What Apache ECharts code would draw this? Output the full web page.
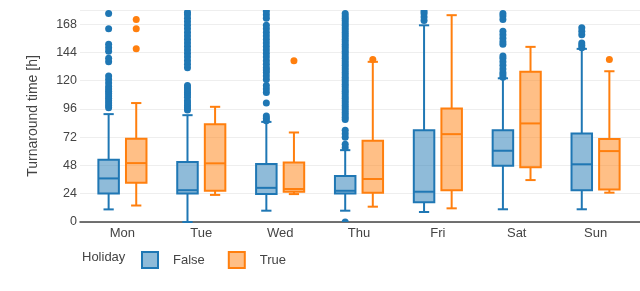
<!DOCTYPE html>
<html><head><meta charset="utf-8">
<script src="https://cdn.jsdelivr.net/npm/echarts@6/dist/echarts.min.js"></script>
<style>html,body{margin:0;padding:0;background:#fff}#c{width:640px;height:291px}</style>
</head><body><div id="c"></div>
<script>
const categories = ['Mon','Tue','Wed','Thu','Fri','Sat','Sun'];
const yTicks = [0,24,48,72,96,120,144,168];
// [min, Q1, median, Q3, max] per day
const statsFalse = [
  [10.7,24.3,37,52.9,91.6],
  [0,24.3,27,51,90.7],
  [9.6,23.7,29,49.2,85],
  [9.6,24.3,26.5,39,61],
  [8.5,16.7,25.7,78,167],
  [10.8,47.8,60.5,78,122],
  [10.8,27,49,75.2,147]
];
const statsTrue = [
  [14,33.4,50,70.7,101],
  [23,26.5,49.8,83,97.8],
  [23.7,25.7,28,50.6,76],
  [13,24.9,36.5,69,136],
  [11.6,27,74.6,96.4,175.6],
  [35.6,46.4,83.7,127.5,148.7],
  [24.9,27.7,60.2,70.4,128]
];
const outFalseMon = [97,99,101,103,105,107,109,111,113,115,118,121,124,136,139,145,148,151,164,177];
const outFalseTue = [95,97,99,101,103,106,108,110,112,114,116,131,134,137,140,143,146,149,152,155,158,161,164,167,170,173,176,178];
const outFalseWed = [86,88,90,101,110,113,116,121,124,127,129,131,134,137,140,143,146,149,152,155,158,161,164,167,173,176,179];
const outFalseThu = [0,63,66,72,75,78,87,89,91,93,95,97,99,101,103,105,107,109,111,113,115,117,119,121,123,125,127,129,131,133,135,137,139,141,143,145,147,149,151,153,155,157,159,161,163,165,167,169,171,173,175,177];
const outFalseFri = [171,174,177,179];
const outFalseSat = [123,125,127,130,133,136,139,141,151,153,156,159,162,172,175,177];
const outFalseSun = [148,150,152,159,162,165];
const outTrueMon = [147,164,172];
const outTrueWed = [137];
const outTrueThu = [138];
const outTrueSun = [138];

const outFalse = [outFalseMon,outFalseTue,outFalseWed,outFalseThu,outFalseFri,outFalseSat,outFalseSun];
const outTrue = [outTrueMon,[],outTrueWed,outTrueThu,[],[],outTrueSun];

const BLUE = '#1f77b4', ORANGE = '#ff7f0e';
const BLUE_F = 'rgba(31,119,180,0.5)', ORANGE_F = 'rgba(255,127,14,0.5)';

function boxRenderer(offset, stroke, fill) {
  return function (params, api) {
    const i = api.value(0);
    const band = api.size([1, 0])[0];
    const cx = api.coord([i, 0])[0] + offset * band;
    const w = 0.26 * band, cap = 0.13 * band;
    const y = k => api.coord([i, api.value(k)])[1];
    const yMin = y(1), yQ1 = y(2), yMed = y(3), yQ3 = y(4), yMax = y(5);
    const ls = { stroke: stroke, lineWidth: 2 };
    return {
      type: 'group',
      children: [
        { type: 'line', shape: { x1: cx, y1: yQ1, x2: cx, y2: yMin }, style: ls },
        { type: 'line', shape: { x1: cx, y1: yQ3, x2: cx, y2: yMax }, style: ls },
        { type: 'line', shape: { x1: cx - cap/2, y1: yMin, x2: cx + cap/2, y2: yMin }, style: ls },
        { type: 'line', shape: { x1: cx - cap/2, y1: yMax, x2: cx + cap/2, y2: yMax }, style: ls },
        { type: 'rect', shape: { x: cx - w/2, y: yQ3, width: w, height: yQ1 - yQ3 }, style: { fill: fill, stroke: stroke, lineWidth: 2 } },
        { type: 'line', shape: { x1: cx - w/2, y1: yMed, x2: cx + w/2, y2: yMed }, style: ls }
      ]
    };
  };
}
function outlierRenderer(offset, color) {
  return function (params, api) {
    const i = api.value(0);
    const band = api.size([1, 0])[0];
    const p = api.coord([i, api.value(1)]);
    return { type: 'circle', shape: { cx: p[0] + offset * band, cy: p[1], r: 3.5 }, style: { fill: color } };
  };
}
const boxDataF = statsFalse.map((s, i) => [i].concat(s));
const boxDataT = statsTrue.map((s, i) => [i].concat(s));
const outDataF = []; outFalse.forEach((arr, i) => arr.forEach(v => outDataF.push([i, v])));
const outDataT = []; outTrue.forEach((arr, i) => arr.forEach(v => outDataT.push([i, v])));

const OFF = 0.175;
const font = 'Liberation Sans, Arial, sans-serif';
const chart = echarts.init(document.getElementById('c'), null, { renderer: 'canvas' });
chart.setOption({
  backgroundColor: '#fff',
  animation: false,
  textStyle: { fontFamily: font },
  title: { text: 'Holiday', left: 82, top: 251, padding: 0, textStyle: { fontSize: 13, fontWeight: 'normal', color: '#444', fontFamily: font } },
  legend: {
    left: 141, top: 251, padding: 0, itemWidth: 16, itemHeight: 16, itemGap: 23, icon: 'rect',
    textStyle: { fontSize: 13, color: '#444', fontFamily: font, padding: [0, 0, 0, 10] },
    data: [
      { name: 'False', itemStyle: { color: BLUE_F, borderColor: BLUE, borderWidth: 2 } },
      { name: 'True', itemStyle: { color: ORANGE_F, borderColor: ORANGE, borderWidth: 2 } }
    ]
  },
  grid: [
    { left: 80, right: 0, top: 10, height: 212 },
    { left: 83, width: 552, top: 10, height: 212 }
  ],
  xAxis: [
    { gridIndex: 0, type: 'value', min: 0, max: 1,
      axisLine: { show: true, onZero: false, lineStyle: { color: '#444', width: 1.5 } },
      axisTick: { show: false }, axisLabel: { show: false }, splitLine: { show: false } },
    { gridIndex: 1, type: 'category', data: categories,
      axisLine: { show: false }, axisTick: { show: false },
      axisLabel: { color: '#444', fontSize: 13, margin: 5, fontFamily: font },
      splitLine: { show: false } }
  ],
  yAxis: [
    { gridIndex: 0, type: 'value', min: 0, max: 180, interval: 24,
      name: 'Turnaround time [h]', nameLocation: 'middle', nameGap: 40,
      nameTextStyle: { fontSize: 14, color: '#444', fontFamily: font },
      axisLine: { show: false }, axisTick: { show: false },
      axisLabel: { color: '#444', fontSize: 12.5, margin: 3, fontFamily: font,
        formatter: v => (yTicks.indexOf(v) >= 0 ? String(v) : '') },
      splitLine: { lineStyle: { color: '#eeeeee', width: 1 } } },
    { gridIndex: 1, type: 'value', min: 0, max: 180, interval: 24, show: false, splitLine: { show: false } }
  ],
  series: [
    { name: 'False', type: 'custom', xAxisIndex: 1, yAxisIndex: 1, renderItem: boxRenderer(-OFF, BLUE, BLUE_F), data: boxDataF, encode: { x: 0, y: [1,2,3,4,5] }, itemStyle: { color: BLUE }, clip: false, z: 2 },
    { name: 'True', type: 'custom', xAxisIndex: 1, yAxisIndex: 1, renderItem: boxRenderer(OFF, ORANGE, ORANGE_F), data: boxDataT, encode: { x: 0, y: [1,2,3,4,5] }, itemStyle: { color: ORANGE }, clip: false, z: 2 },
    { name: 'False', type: 'custom', xAxisIndex: 1, yAxisIndex: 1, renderItem: outlierRenderer(-OFF, BLUE), data: outDataF, encode: { x: 0, y: 1 }, itemStyle: { color: BLUE }, clip: true, z: 3 },
    { name: 'True', type: 'custom', xAxisIndex: 1, yAxisIndex: 1, renderItem: outlierRenderer(OFF, ORANGE), data: outDataT, encode: { x: 0, y: 1 }, itemStyle: { color: ORANGE }, clip: true, z: 3 }
  ]
});
</script></body></html>
